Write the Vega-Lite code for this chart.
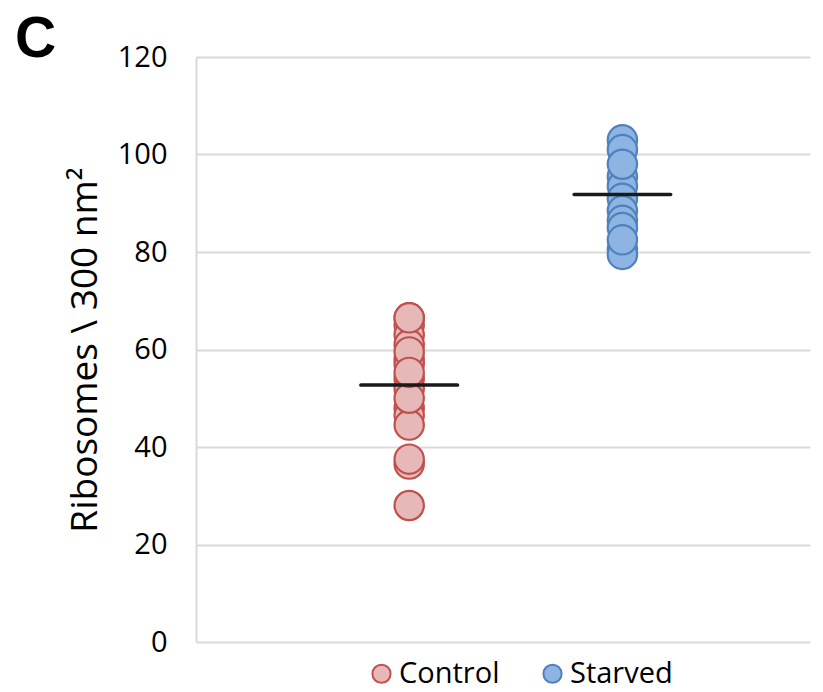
{
  "$schema": "https://vega.github.io/schema/vega-lite/v6.json",
  "autosize": "none",
  "width": 614,
  "height": 585,
  "padding": {"left": 196, "top": 57, "right": 13, "bottom": 50},
  "background": "white",
  "config": {
    "view": {"stroke": null},
    "font": "Open Sans"
  },
  "title": {
    "text": "C",
    "anchor": "start",
    "frame": "group",
    "orient": "top",
    "fontSize": 57,
    "fontWeight": "bold",
    "fontStyle": "normal",
    "font": "Liberation Sans",
    "dx": -181,
    "dy": 71,
    "offset": 0,
    "baseline": "alphabetic",
    "color": "black"
  },
  "datasets": {
    "points": [
      {"group": "Control", "pos": 1, "value": 66.5},
      {"group": "Control", "pos": 1, "value": 65},
      {"group": "Control", "pos": 1, "value": 63},
      {"group": "Control", "pos": 1, "value": 61},
      {"group": "Control", "pos": 1, "value": 58},
      {"group": "Control", "pos": 1, "value": 57},
      {"group": "Control", "pos": 1, "value": 54},
      {"group": "Control", "pos": 1, "value": 52},
      {"group": "Control", "pos": 1, "value": 48},
      {"group": "Control", "pos": 1, "value": 46.5},
      {"group": "Control", "pos": 1, "value": 44.5},
      {"group": "Control", "pos": 1, "value": 36.5},
      {"group": "Control", "pos": 1, "value": 37.5},
      {"group": "Control", "pos": 1, "value": 28},
      {"group": "Control", "pos": 1, "value": 59.5},
      {"group": "Control", "pos": 1, "value": 50},
      {"group": "Control", "pos": 1, "value": 55.3},
      {"group": "Control", "pos": 1, "value": 66.5},
      {"group": "Starved", "pos": 2, "value": 103},
      {"group": "Starved", "pos": 2, "value": 101},
      {"group": "Starved", "pos": 2, "value": 95.5},
      {"group": "Starved", "pos": 2, "value": 93.5},
      {"group": "Starved", "pos": 2, "value": 91},
      {"group": "Starved", "pos": 2, "value": 88.5},
      {"group": "Starved", "pos": 2, "value": 86.5},
      {"group": "Starved", "pos": 2, "value": 85},
      {"group": "Starved", "pos": 2, "value": 80.5},
      {"group": "Starved", "pos": 2, "value": 79.5},
      {"group": "Starved", "pos": 2, "value": 98},
      {"group": "Starved", "pos": 2, "value": 82.5}
    ],
    "means": [
      {"group": "Control", "pos": 1, "mean": 52.7},
      {"group": "Starved", "pos": 2, "mean": 91.8}
    ]
  },
  "layer": [
    {
      "data": {"name": "points"},
      "mark": {"type": "point", "shape": "circle", "filled": false, "strokeWidth": 2.2, "size": 860, "opacity": 1, "fillOpacity": 1},
      "encoding": {
        "x": {"field": "pos", "type": "quantitative", "scale": {"domain": [0, 2.88], "nice": false, "zero": false}, "axis": null},
        "y": {
          "field": "value", "type": "quantitative",
          "scale": {"domain": [0, 120], "nice": false},
          "axis": {
            "values": [0, 20, 40, 60, 80, 100, 120],
            "title": "Ribosomes \\ 300 nm²",
            "titleFontSize": 37,
            "titleFontWeight": "normal",
            "titleColor": "black",
            "titlePadding": 13,
            "labelFontSize": 29,
            "labelColor": "black",
            "labelPadding": 29,
            "ticks": false,
            "domainColor": "#d9d9d9",
            "domainWidth": 2,
            "gridColor": "#d9d9d9",
            "gridWidth": 2.2
          }
        },
        "fill": {
          "field": "group", "type": "nominal",
          "scale": {"domain": ["Control", "Starved"], "range": ["#e6b9b8", "#8db4e2"]},
          "legend": {
            "title": null,
            "orient": "none",
            "legendX": 171,
            "legendY": 602,
            "direction": "horizontal",
            "symbolType": "circle",
            "symbolSize": 330,
            "symbolStrokeWidth": 2,
            "labelFontSize": 29,
            "labelColor": "black",
            "labelOffset": 3,
            "columnPadding": 38
          }
        },
        "stroke": {
          "field": "group", "type": "nominal",
          "scale": {"domain": ["Control", "Starved"], "range": ["#c0504d", "#4f81bd"]},
          "legend": {
            "title": null,
            "orient": "none",
            "legendX": 171,
            "legendY": 602,
            "direction": "horizontal",
            "symbolType": "circle",
            "symbolSize": 330,
            "symbolStrokeWidth": 2,
            "labelFontSize": 29,
            "labelColor": "black",
            "labelOffset": 3,
            "columnPadding": 38
          }
        }
      }
    },
    {
      "data": {"name": "means"},
      "mark": {"type": "tick", "orient": "horizontal", "size": 100, "thickness": 3.5, "color": "#1a1a1a", "opacity": 1, "cornerRadius": 1.7},
      "encoding": {
        "x": {"field": "pos", "type": "quantitative"},
        "y": {"field": "mean", "type": "quantitative"}
      }
    }
  ]
}
